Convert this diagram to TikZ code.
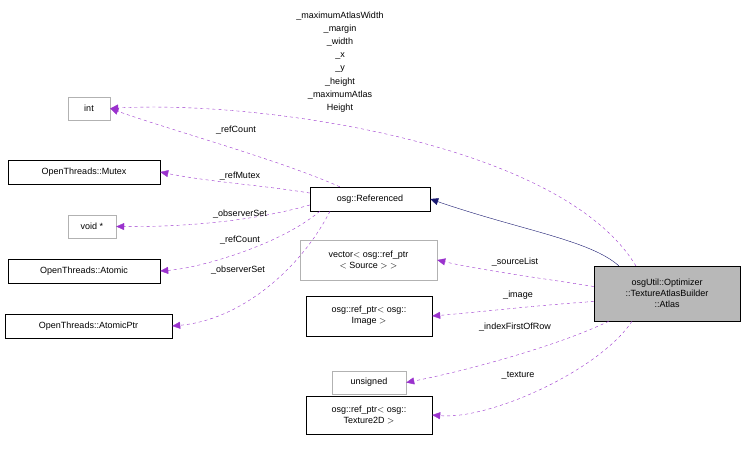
\documentclass[tikz,border=0pt]{standalone}
\usepackage{fontspec}
\setmainfont{Liberation Sans}
\usetikzlibrary{arrows.meta}
\definecolor{edgepurple}{HTML}{9A32CD}
\definecolor{edgenavy}{HTML}{191970}
\tikzset{
  box/.style={draw=black, fill=white, font=\fontsize{9}{11}\selectfont, inner sep=2pt, align=center},
  extbox/.style={box, draw=black!30},
  mainbox/.style={box, fill=black!28},
  member/.style={draw=edgepurple, dashed, -{Triangle[length=8pt,width=7pt]}},
  inherit/.style={draw=edgenavy, -{Triangle[length=8pt,width=7pt]}},
  lbl/.style={font=\fontsize{9}{11}\selectfont, align=center, inner sep=1pt}
}
\begin{document}
\begin{tikzpicture}[x=1pt,y=-1pt]
\useasboundingbox (0,0) rectangle (744,469);

% classes
\node[extbox, minimum width=42, minimum height=23] (int) at (89,108.5) {int};
\node[box, minimum width=152, minimum height=24] (mutex) at (84,172) {OpenThreads::Mutex};
\node[extbox, minimum width=48, minimum height=23] (void) at (92,226.5) {void *};
\node[box, minimum width=152, minimum height=24] (atomic) at (84,271) {OpenThreads::Atomic};
\node[box, minimum width=167, minimum height=24] (atomicptr) at (88.5,326) {OpenThreads::AtomicPtr};
\node[box, minimum width=120, minimum height=24] (ref) at (370,199) {osg::Referenced};
\node[extbox, minimum width=137, minimum height=40] (vec) at (368.5,260) {vector$<$ osg::ref\_ptr\\$<$ Source $>$ $>$};
\node[box, minimum width=126, minimum height=40] (img) at (369,316) {osg::ref\_ptr$<$ osg::\\Image $>$};
\node[extbox, minimum width=74, minimum height=23] (uns) at (369,382.5) {unsigned};
\node[box, minimum width=126, minimum height=38] (tex) at (369,415) {osg::ref\_ptr$<$ osg::\\Texture2D $>$};
\node[mainbox, minimum width=146, minimum height=55] (atlas) at (667,293.5) {osgUtil::Optimizer\\::TextureAtlasBuilder\\::Atlas};

% inheritance
\draw[inherit] (atlas.north west) ++(25,0) .. controls (590,240) and (520,230) .. (ref.east);

% members of Atlas
\draw[member] (636,266) .. controls (560,140) and (250,100) .. (int.east);
\node[lbl, font=\fontsize{9}{13.2}\selectfont] (lblint) at (340,62) {\_maximumAtlasWidth\\\_margin\\\_width\\\_x\\\_y\\\_height\\\_maximumAtlas\\Height};
\draw[member] (atlas.west) ++(0,-7) .. controls (540,278) and (480,270) .. (vec.east);
\node[lbl] (lblvec) at (515,262) {\_sourceList};
\draw[member] (atlas.west) ++(0,8) .. controls (540,305) and (480,312) .. (img.east);
\node[lbl] (lblimg) at (518,295) {\_image};
\draw[member] (atlas.south west) ++(15,0) .. controls (560,345) and (470,370) .. (uns.east);
\node[lbl] (lbluns) at (515,327) {\_indexFirstOfRow};
\draw[member] (atlas.south) ++(-35,0) .. controls (600,370) and (490,420) .. (tex.east);
\node[lbl] (lbltex) at (518,375) {\_texture};

% members of Referenced
\draw[member] (ref.north west) ++(30,0) .. controls (280,160) and (170,130) .. (int.east);
\node[lbl] (lblrc1) at (236,130) {\_refCount};
\draw[member] (ref.west) ++(0,-6) .. controls (260,185) and (210,182) .. (mutex.east);
\node[lbl] (lblmut) at (240,176) {\_refMutex};
\draw[member] (ref.west) ++(0,6) .. controls (250,222) and (180,227) .. (void.east);
\node[lbl] (lblobs1) at (240,214) {\_observerSet};
\draw[member] (ref.south west) ++(10,0) .. controls (280,245) and (200,268) .. (atomic.east);
\node[lbl] (lblrc2) at (240,240) {\_refCount};
\draw[member] (ref.south) ++(-40,0) .. controls (300,270) and (240,320) .. (atomicptr.east);
\node[lbl] (lblobs2) at (238,270) {\_observerSet};
\end{tikzpicture}
\end{document}
